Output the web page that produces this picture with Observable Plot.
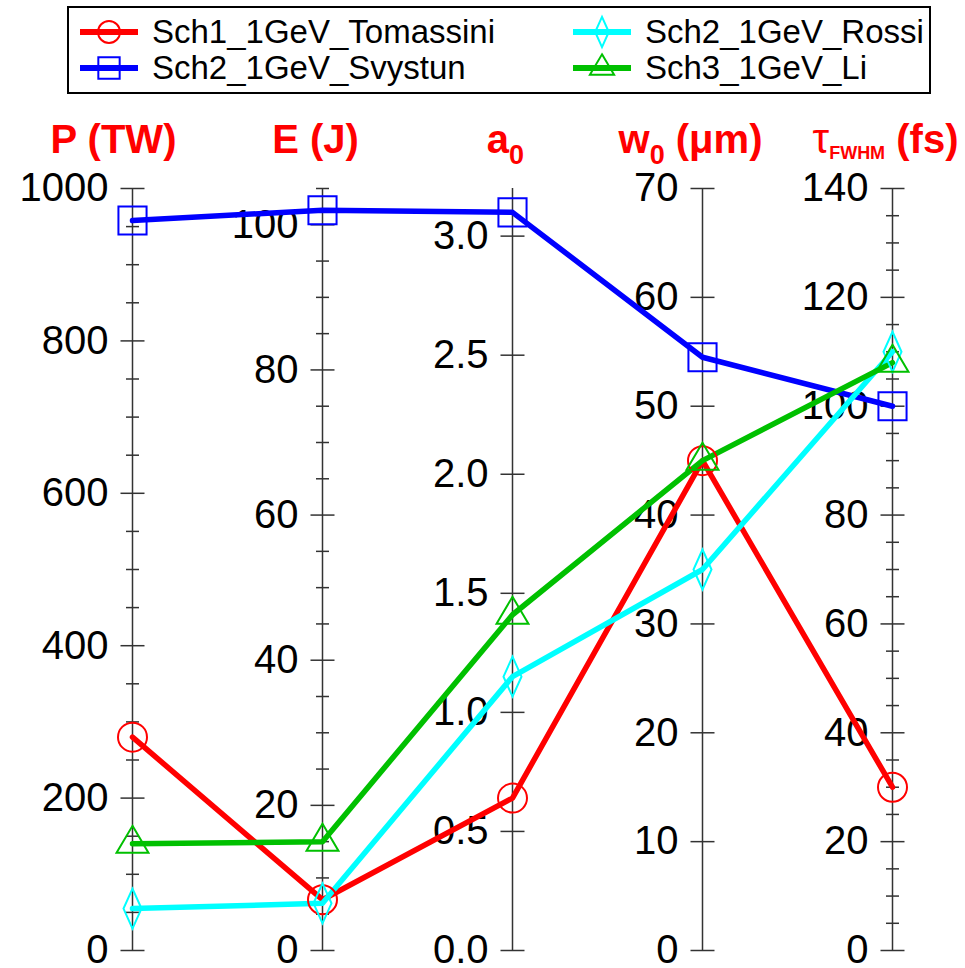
<!DOCTYPE html>
<html>
<head>
<meta charset="utf-8">
<script src="https://cdn.jsdelivr.net/npm/d3@7"></script>
<script src="https://cdn.jsdelivr.net/npm/@observablehq/plot@0.6"></script>
<style>
  body { margin: 0; background: #fff; font-family: "Liberation Sans", Arial, sans-serif; }
  #wrap { position: relative; width: 965px; height: 968px; }
  #legend { position: absolute; left: 67px; top: 6px; width: 860px; height: 84px; border: 2px solid #000; }
  .item { position: absolute; height: 36px; display: flex; align-items: center; font-size: 33px; color: #000; white-space: nowrap; }
  .item svg { margin-right: 14px; overflow: visible; }
  #chart { position: absolute; left: 0; top: 110px; }
</style>
</head>
<body>
<div id="wrap">
  <div id="legend"></div>
  <div id="chart"></div>
</div>
<script>
// Parallel axes: laser power, energy, a0, spot size and pulse length
const dims = ["P", "E", "a0", "w0", "tau"];
const dimMax = [1000, 105, 3.2, 70, 140];
const majorStep = [200, 20, 0.5, 10, 20];
const minorStep = [50, 5, null, null, 5];
const tickFormats = ["d", "d", ".1f", "d", "d"];

// Axis titles, split into runs: b = bold, sub = subscript, tau = plain symbol, fw = small subscript
const titleRuns = [
  [["P (TW)", "b"]],
  [["E (J)", "b"]],
  [["a", "b"], ["0", "sub"]],
  [["w", "b"], ["0", "sub"], [" (\u03bcm)", "b"]],
  [["\u03c4", "tau"], ["FWHM", "fw"], [" (fs)", "b"]]
];

const series = ["Sch1_1GeV_Tomassini", "Sch2_1GeV_Svystun", "Sch2_1GeV_Rossi", "Sch3_1GeV_Li"];
const seriesColors = ["#ff0000", "#0000ff", "#00ffff", "#00c000"];

// Values per series in axis order: P, E, a0, w0, tau
const tomassini = [280, 7, 0.64, 45, 30];
const svystun = [958, 102, 3.1, 54.5, 100];
const rossi = [55, 6.5, 1.15, 35, 110];
const li = [140, 15, 1.41, 45, 108];
const seriesValues = [tomassini, svystun, rossi, li];

// Each axis maps its own range onto a shared 0..1 vertical extent
const norm = dimMax.map(m => d3.scaleLinear([0, m], [0, 1]));

const rows = series.flatMap((s, i) =>
  dims.map((d, j) => ({series: s, dim: d, value: seriesValues[i][j], ny: norm[j](seriesValues[i][j])}))
);

const majors = dims.flatMap((d, j) => {
  const n = Math.floor(dimMax[j] / majorStep[j] + 1e-9);
  const f = d3.format(tickFormats[j]);
  return d3.range(n + 1).map(k => ({dim: d, ny: norm[j](k * majorStep[j]), label: f(k * majorStep[j])}));
});
const minors = dims.flatMap((d, j) => {
  if (!minorStep[j]) return [];
  const n = Math.floor(dimMax[j] / minorStep[j] + 1e-9);
  return d3.range(n + 1)
    .map(k => k * minorStep[j])
    .filter(v => Math.abs(v / majorStep[j] - Math.round(v / majorStep[j])) > 1e-6)
    .map(v => ({dim: d, ny: norm[j](v)}));
});

// Marker shapes; the radius comes from the dot's r
const shape = fn => ({draw(c, size) { fn(c, Math.sqrt(size / Math.PI)); }});
const circle = shape((c, r) => { c.moveTo(r, 0); c.arc(0, 0, r, 0, 2 * Math.PI); });
const square = shape((c, r) => { const h = r * 0.97; c.rect(-h, -h, 2 * h, 2 * h); });
const diamond = shape((c, r) => {
  const w = r * 0.62, h = r * 1.38;
  c.moveTo(0, -h); c.lineTo(w, 0); c.lineTo(0, h); c.lineTo(-w, 0); c.closePath();
});
const triangle = shape((c, r) => {
  const w = r * 1.1, h = r * 1.86;
  c.moveTo(0, -h * 2 / 3); c.lineTo(w, h / 3); c.lineTo(-w, h / 3); c.closePath();
});
const dash = shape((c, r) => { c.moveTo(-r, 0); c.lineTo(r, 0); });
const seriesSymbols = [circle, square, diamond, triangle];

const axisColor = "#333";
const font = '"Liberation Sans", Arial, sans-serif';

const chart = Plot.plot({
  width: 965,
  height: 858,
  marginTop: 78,
  marginBottom: 18,
  marginLeft: 130,
  marginRight: 72,
  x: {type: "point", domain: dims, padding: 0, axis: null},
  y: {domain: [0, 1], axis: null},
  color: {domain: series, range: seriesColors},
  symbol: {domain: series, range: seriesSymbols},
  style: {fontFamily: font, background: "white", overflow: "visible"},
  marks: [
    Plot.ruleX(dims, {x: d => d, y1: 0, y2: 1, stroke: axisColor, strokeWidth: 1.5}),
    Plot.dot(minors, {x: "dim", y: "ny", symbol: dash, r: 6.5, stroke: axisColor, strokeWidth: 1.5}),
    Plot.dot(majors, {x: "dim", y: "ny", symbol: dash, r: 12, stroke: axisColor, strokeWidth: 1.5}),
    Plot.text(majors, {x: "dim", y: "ny", text: "label", textAnchor: "end", dx: -24, fontSize: 40, fill: "#000"}),
    Plot.line(rows, {x: "dim", y: "ny", z: "series", stroke: "series", strokeWidth: 5.5, strokeLinejoin: "round"}),
    Plot.dot(rows, {x: "dim", y: "ny", symbol: "series", stroke: "series", fill: "none", r: 14.5, strokeWidth: 2}),
    Plot.text(dims, {x: d => d, text: d => d, frameAnchor: "top", lineAnchor: "bottom", dy: -36,
      textAnchor: "middle", fill: "#ff0000", fontSize: 40, fontWeight: "bold"})
  ]
});

// Rebuild the axis titles (the last text mark) with subscripts
const titleShift = [-19, -7, -7, -12, -7];
const runStyle = {
  b:   {size: 40, weight: "bold", shift: 0},
  sub: {size: 27, weight: "bold", shift: 11},
  tau: {size: 42, weight: "normal", shift: 0},
  fw:  {size: 18, weight: "bold", shift: 6}
};
const textGroups = d3.select(chart).selectAll('g[aria-label="text"]').nodes();
d3.select(textGroups[textGroups.length - 1]).selectAll("text").each(function(_, i) {
  const t = d3.select(this);
  t.text(null).attr("dx", titleShift[i]);
  let cur = 0;
  for (const [str, kind] of titleRuns[i]) {
    const st = runStyle[kind];
    t.append("tspan")
      .attr("dy", st.shift - cur)
      .attr("font-size", st.size)
      .attr("font-weight", st.weight)
      .text(str);
    cur = st.shift;
  }
});

document.getElementById("chart").appendChild(chart);

// Legend: two columns, two rows
const legend = d3.select("#legend");
series.forEach((s, i) => {
  const col = Math.floor(i / 2), row = i % 2;
  const item = legend.append("div").attr("class", "item")
    .style("left", (11 + col * 493) + "px")
    .style("top", (6 + row * 36) + "px");
  const sw = item.append("svg").attr("width", 58).attr("height", 36);
  sw.append("line").attr("x1", 0).attr("x2", 58).attr("y1", 18).attr("y2", 18)
    .attr("stroke", seriesColors[i]).attr("stroke-width", 6);
  sw.append("path")
    .attr("transform", "translate(29,18)")
    .attr("d", d3.symbol(seriesSymbols[i], Math.PI * 11 * 11)())
    .attr("fill", "none").attr("stroke", seriesColors[i]).attr("stroke-width", 2);
  item.append("span").text(s);
});
</script>
</body>
</html>
